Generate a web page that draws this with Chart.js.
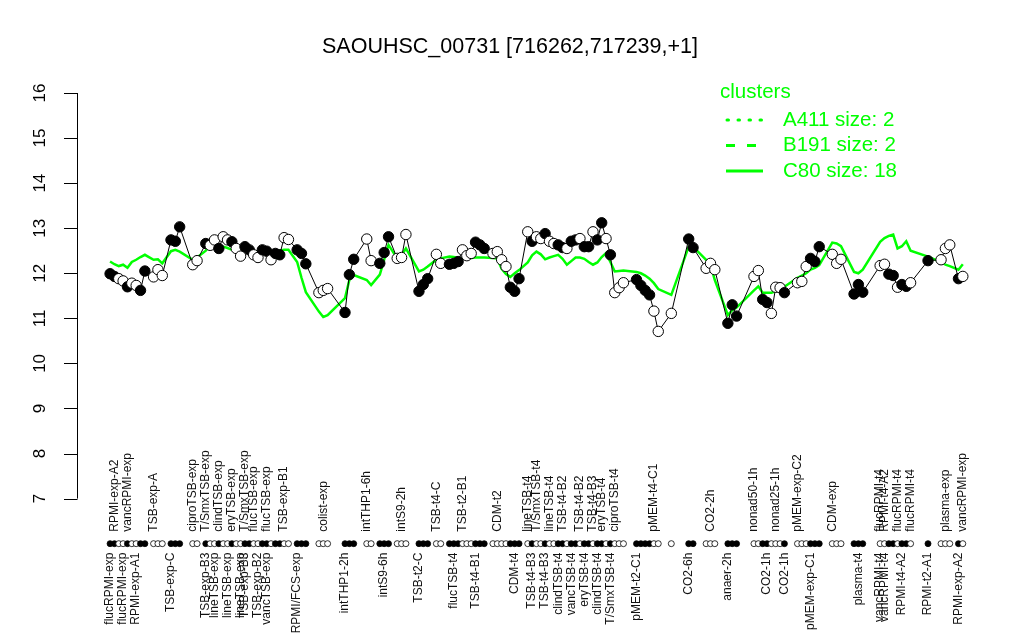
<!DOCTYPE html>
<html><head><meta charset="utf-8">
<script src="https://cdn.jsdelivr.net/npm/chart.js@4.4.1/dist/chart.umd.min.js"></script>
<style>html,body{margin:0;padding:0;background:#fff}#wrap{width:1024px;height:640px}</style>
</head><body><div id="wrap"><canvas id="c" width="1024" height="640"></canvas></div>
<script>
// ---- data ----
const chartTitle = 'SAOUHSC_00731 [716262,717239,+1]';
const yTicks = [7, 8, 9, 10, 11, 12, 13, 14, 15, 16];
const samplePos = [0,1,2,3,4,5,6,7,8, 10,11,12, 14,15,16, 19,20,
  22,23,24,25,26,27,28,29,30,31,32,33,34,35,36,37,38,39,40,41,
  43,44,45, 48,49,50, 54,55,56, 59,60, 62,63,64, 66,67,68, 71,72,73, 75,76,
  78,79,80, 81,82,83, 84,85,86, 88,89,90,91, 92,93,94,
  96,97,98,99,100,101,102,103,104,105,106,107,108,109,110,111,112,113,114,115,116,117,118,
  121,122,123,124, 125,126, 129, 133,134, 137,138,139, 142,143,144,
  148,149, 150,151, 152,153,154, 155, 158,159,160, 161,162,163, 166,167,168, 171,172,173,
  177,178,179,180,181,182,183,184, 188, 191,192,193, 195,196];
const expression = [11.99,11.93,11.88,11.83,11.70,11.78,11.73,11.62,12.05, 11.92,12.08,11.95, 12.74,12.71,13.03, 12.19,12.28,
  12.66,12.62,12.74,12.55,12.81,12.74,12.70,12.55,12.38,12.59,12.52,12.41,12.35,12.52,12.49,12.30,12.44,12.41,12.79,12.75,
  12.52,12.44,12.21, 11.57,11.62,11.66, 11.13,11.97,12.31, 12.76,12.28, 12.22,12.46,12.81, 12.33,12.35,12.86, 11.60,11.75,11.88, 12.42,12.22,
  12.20,12.22,12.26, 12.52,12.39,12.44, 12.69,12.63,12.55, 12.44,12.48,12.30,12.15, 11.69,11.60,11.88,
  12.92,12.71,12.81,12.77,12.88,12.71,12.66,12.63,12.57,12.55,12.71,12.74,12.77,12.59,12.59,12.92,12.74,13.12,12.77,12.41,11.57,11.68,11.79,
  11.86,11.73,11.62,11.52, 11.16,10.71, 11.11, 12.76,12.57, 12.11,12.22,12.08, 10.89,11.30,11.05,
  11.93,12.06, 11.42,11.35, 11.11,11.69,11.68, 11.57, 11.79,11.82,12.15, 12.33,12.26,12.59, 12.42,12.22,12.31, 11.54,11.75,11.58,
  12.17,12.20,11.98,11.95,11.69,11.75,11.71,11.79, 12.28, 12.30,12.55,12.63, 11.88,11.93];
const filled = [1,1,0,0,1,0,0,1,1, 0,0,0, 1,1,1, 0,0,
  1,0,0,1,0,0,1,0,0,1,1,0,0,1,1,0,1,1,0,0,
  1,1,1, 0,0,0, 1,1,1, 0,0, 1,1,1, 0,0,0, 1,1,1, 0,0,
  1,1,1, 0,0,0, 1,1,1, 0,0,0,0, 1,1,1,
  0,1,0,0,1,0,0,1,1,0,1,1,0,1,1,0,1,1,0,1,0,0,0,
  1,1,1,1, 0,0, 0, 1,1, 0,0,0, 1,1,1,
  0,0, 1,1, 0,0,0, 1, 0,0,0, 1,1,1, 0,0,0, 1,1,1,
  0,0,1,1,0,1,1,0, 1, 0,0,0, 1,0];
const clusterC80 = [12.26,12.20,12.16,12.19,12.12,12.25,12.30,12.36,12.41, 12.30,12.31,12.22, 12.49,12.52,12.48, 12.30,12.35,
  12.50,12.63,12.62,12.60,12.59,12.56,12.52,12.53,12.55,12.55,12.52,12.49,12.48,12.50,12.52,12.50,12.33,12.50,12.52,12.52,
  12.25,11.90,11.58, 11.15,11.03,11.07, 11.45,11.85,11.96, 11.85,11.74, 11.97,12.30,12.63, 12.33,12.40,12.55, 12.04,12.08,12.15, 12.30,12.33,
  12.37,12.36,12.34, 12.33,12.33,12.34, 12.35,12.35,12.35, 12.34,12.33,12.10,11.98, 11.92,12.00,12.07,
  12.24,12.40,12.48,12.42,12.31,12.35,12.38,12.41,12.32,12.19,12.27,12.35,12.35,12.32,12.25,12.19,12.24,12.36,12.45,12.25,12.04,12.05,12.06,
  12.03,12.00,11.95,11.88, 11.78,11.65, 11.52, 12.59,12.59, 12.30,12.19,11.85, 11.07,11.18,11.24,
  11.62,11.71, 11.57,11.57, 11.57,11.60,11.64, 11.70, 11.90,11.95,12.00, 12.08,12.12,12.18, 12.68,12.66,12.60, 12.03,12.00,12.08,
  12.70,12.78,12.83,12.86,12.55,12.60,12.71,12.50, 12.37, 12.25,12.19,12.16, 12.08,12.20];
const topLabels = ['','RPMI-exp-A2','','','vancRPMI-exp','','','','', 'TSB-exp-A','','', '','','', 'ciproTSB-exp','',
  'T/SmxTSB-exp','','','clindTSB-exp','','','eryTSB-exp','','','T/SmxTSB-exp','','flucTSB-exp','','','flucTSB-exp','','','','TSB-exp-B1','',
  '','','', '','colist-exp','', '','','', 'intTHP1-6h','', '','','', '','intS9-2h','', '','','', 'TSB-t4-C','',
  '','','', 'TSB-t2-B1','','', '','','', '','CDM-t2','','', '','','',
  'lineTSB-t4','','T/SmxTSB-t4','','','lineTSB-t4','','','TSB-t4-B2','','','','TSB-t4-B2','','','TSB-t4-B3','','eryTSB-t4','','','ciproTSB-t4','','',
  '','','','', 'pMEM-t4-C1','', '', '','', '','CO2-2h','', '','','',
  'nonad50-1h','', '','', '','nonad25-1h','', '', 'pMEM-exp-C2','','', '','','', 'CDM-exp','','', '','','',
  'flucRPMI-t4','RPMI-t4-A2','','','flucRPMI-t4','','','flucRPMI-t4', '', '','plasma-exp','', '','vancRPMI-exp'];
const bottomLabels = ['flucRPMI-exp','','','flucRPMI-exp','','','RPMI-exp-A1','','', '','','', 'TSB-exp-C','','', '','',
  'TSB-exp-B3','','lineTSB-exp','','','lineTSB-exp','','','lineTSB-exp','TSB-exp-B3','','','TSB-exp-B2','','vancTSB-exp','','','','','',
  'RPMI/FCS-exp','','', '','','', 'intTHP1-2h','','', '','', '','intS9-6h','', '','','', 'TSB-t2-C','','', '','',
  '','flucTSB-t4','', '','','', 'TSB-t4-B1','','', '','','','', '','CDM-t4','',
  '','TSB-t4-B3','','','TSB-t4-B3','','','clindTSB-t4','','','vancTSB-t4','','','eryTSB-t4','','','clindTSB-t4','','','T/SmxTSB-t4','','','',
  'pMEM-t2-C1','','','', '','', '', 'CO2-6h','', '','','', 'anaer-2h','','',
  '','', '','CO2-1h', '','','', 'CO2-1h', '','','', 'pMEM-exp-C1','','', '','','', '','plasma-t4','',
  'vancRPMI-t4','vancRPMI-t4','','','','RPMI-t4-A2','','', 'RPMI-t2-A1', '','','', 'RPMI-exp-A2',''];
const legendTitle = 'clusters';
const legendLabels = ['A411 size: 2', 'B191 size: 2', 'C80 size: 18'];

// ---- layout / style ----
const STRIP_Y = 6;
const GREEN = '#00ff00';
const FONT = '"Liberation Sans", Arial, Helvetica, sans-serif';
const legendDashes = [[1.5, 9.5], [9, 12], []];

const decor = {
  id: 'decor',
  afterDraw(chart) {
    const ctx = chart.ctx, xs = chart.scales.x, ys = chart.scales.y;
    const ax = chart.chartArea.left;
    ctx.save();
    // y axis
    ctx.strokeStyle = '#000'; ctx.lineWidth = 1;
    ctx.beginPath();
    ctx.moveTo(ax + 0.5, ys.getPixelForValue(yTicks[0]));
    ctx.lineTo(ax + 0.5, ys.getPixelForValue(yTicks[yTicks.length - 1]));
    yTicks.forEach(v => {
      const py = Math.round(ys.getPixelForValue(v)) + 0.5;
      ctx.moveTo(ax - 13, py); ctx.lineTo(ax + 0.5, py);
    });
    ctx.stroke();
    ctx.fillStyle = '#000';
    ctx.font = '17px ' + FONT;
    ctx.textAlign = 'center'; ctx.textBaseline = 'middle';
    yTicks.forEach(v => {
      ctx.save();
      ctx.translate(ax - 37, ys.getPixelForValue(v));
      ctx.rotate(-Math.PI / 2);
      ctx.fillText(String(v), 0, 0);
      ctx.restore();
    });
    // sample labels
    const sy = ys.getPixelForValue(STRIP_Y);
    ctx.font = '12px ' + FONT;
    ctx.fillStyle = '#111';
    ctx.textBaseline = 'middle';
    samplePos.forEach((p, i) => {
      const px = xs.getPixelForValue(p);
      if (topLabels[i]) {
        ctx.save(); ctx.translate(px, sy - 12); ctx.rotate(-Math.PI / 2);
        ctx.textAlign = 'left'; ctx.fillText(topLabels[i], 0, 0); ctx.restore();
      }
      if (bottomLabels[i]) {
        ctx.save(); ctx.translate(px, sy + 9); ctx.rotate(-Math.PI / 2);
        ctx.textAlign = 'right'; ctx.fillText(bottomLabels[i], 0, 0); ctx.restore();
      }
    });
    // title
    ctx.fillStyle = '#000';
    ctx.font = '21.5px ' + FONT;
    ctx.textAlign = 'center'; ctx.textBaseline = 'middle';
    ctx.fillText(chartTitle, 510, 47);
    // legend
    ctx.fillStyle = GREEN; ctx.strokeStyle = GREEN;
    ctx.font = '20.5px ' + FONT;
    ctx.textAlign = 'left';
    ctx.fillText(legendTitle, 720, 92);
    legendLabels.forEach((t, k) => {
      const ly = 120 + k * 25.5;
      ctx.save();
      ctx.lineWidth = 3; ctx.lineCap = k === 0 ? 'round' : 'butt';
      ctx.setLineDash(legendDashes[k]);
      ctx.beginPath(); ctx.moveTo(k === 0 ? 727 : 726, ly); ctx.lineTo(763, ly); ctx.stroke();
      ctx.restore();
      ctx.fillText(t, 783, ly);
    });
    ctx.restore();
  }
};

new Chart(document.getElementById('c'), {
  type: 'scatter',
  data: {
    datasets: [
      {
        label: 'expression',
        data: samplePos.map((p, i) => ({x: p, y: expression[i]})),
        showLine: true, borderColor: '#000', borderWidth: 1,
        pointRadius: 5.2, pointBorderWidth: 1, pointBorderColor: '#000',
        pointBackgroundColor: filled.map(f => f ? '#000' : '#fff'),
        order: 0
      },
      {
        label: 'strip',
        data: samplePos.map(p => ({x: p, y: STRIP_Y})),
        showLine: false, pointRadius: 3, pointBorderWidth: 0.8, pointBorderColor: '#000',
        pointBackgroundColor: filled.map(f => f ? '#000' : '#fff'),
        order: 1
      },
      {
        label: 'C80',
        data: samplePos.map((p, i) => ({x: p, y: clusterC80[i]})),
        showLine: true, borderColor: GREEN, borderWidth: 2.5, pointRadius: 0,
        order: 2
      }
    ]
  },
  options: {
    responsive: false, animation: false, devicePixelRatio: 1,
    layout: {padding: {left: 77, right: 39, top: 93, bottom: 0}},
    scales: {
      x: {type: 'linear', min: -7.6, max: 201.1, display: false},
      y: {type: 'linear', min: 4, max: 16, display: false}
    },
    elements: {line: {tension: 0}},
    plugins: {legend: {display: false}, tooltip: {enabled: false}, title: {display: false}}
  },
  plugins: [decor]
});
</script></body></html>
